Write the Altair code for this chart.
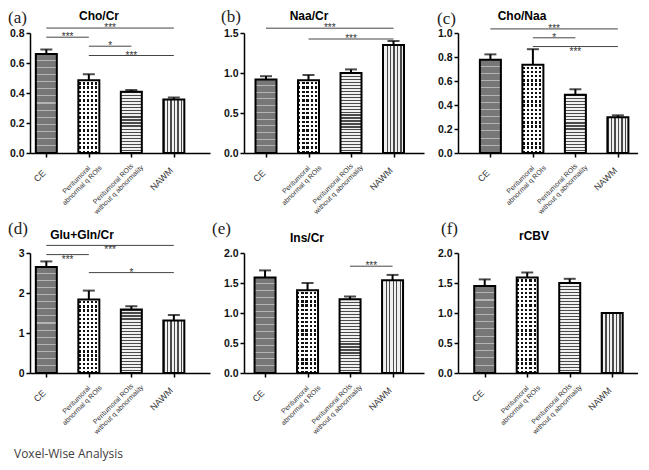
import altair as alt
import pandas as pd

# ---------------- data ----------------
categories = ["CE", "Peritumoral|abnormal q ROIs", "Peritumoral ROIs|without q abnormality", "NAWM"]
panel_titles = ["Cho/Cr", "Naa/Cr", "Cho/Naa", "Glu+Gln/Cr", "Ins/Cr", "rCBV"]
panel_tags = ["(a)", "(b)", "(c)", "(d)", "(e)", "(f)"]
footer_text = "Voxel-Wise Analysis"

cho_cr_mean = [0.66, 0.485, 0.408, 0.357]
cho_cr_sem = [0.03, 0.04, 0.012, 0.013]
naa_cr_mean = [0.92, 0.91, 1.00, 1.35]
naa_cr_sem = [0.04, 0.065, 0.045, 0.05]
cho_naa_mean = [0.777, 0.735, 0.486, 0.297]
cho_naa_sem = [0.045, 0.13, 0.045, 0.017]
glx_cr_mean = [2.65, 1.84, 1.59, 1.31]
glx_cr_sem = [0.14, 0.22, 0.08, 0.14]
ins_cr_mean = [1.59, 1.38, 1.23, 1.545]
ins_cr_sem = [0.12, 0.12, 0.045, 0.09]
rcbv_mean = [1.45, 1.59, 1.50, 1.00]
rcbv_sem = [0.11, 0.085, 0.07, 0.0]

y_max = [0.8, 1.5, 1.0, 3, 2.0, 2.0]
y_ticks = [
    [0, 0.2, 0.4, 0.6, 0.8],
    [0, 0.5, 1.0, 1.5],
    [0, 0.2, 0.4, 0.6, 0.8, 1.0],
    [0, 1, 2, 3],
    [0, 0.5, 1.0, 1.5, 2.0],
    [0, 0.5, 1.0, 1.5, 2.0],
]
y_format = [".1f", ".1f", ".1f", "d", ".1f", ".1f"]

# significance brackets: (from group, to group, height, label, star placement)
sig_a = [(0, 3, 0.833, "***", "above"), (0, 1, 0.772, "***", "above"),
         (1, 2, 0.712, "*", "above"), (1, 3, 0.65, "***", "above")]
sig_b = [(0, 3, 1.56, "***", "above"), (1, 3, 1.425, "***", "above")]
sig_c = [(0, 3, 1.034, "***", "above"), (1, 2, 0.96, "*", "above"), (1, 3, 0.887, "***", "below")]
sig_d = [(0, 3, 3.19, "***", "below"), (0, 1, 2.96, "***", "below"), (1, 3, 2.51, "*", "above")]
sig_e = [(2, 3, 1.78, "***", "above")]
sig_f = []

panels_data = [
    (cho_cr_mean, cho_cr_sem, sig_a),
    (naa_cr_mean, naa_cr_sem, sig_b),
    (cho_naa_mean, cho_naa_sem, sig_c),
    (glx_cr_mean, glx_cr_sem, sig_d),
    (ins_cr_mean, ins_cr_sem, sig_e),
    (rcbv_mean, rcbv_sem, sig_f),
]

# ---------------- style ----------------
W, H = 180, 120
STEP = 45.0
BAR_W = 21
first_center = [12, 18, 29, 12, 17, 23]
tag_pos = [(-22, -15), (-23, -16), (-21, -14), (-22, -24), (-32, -24), (-17, -24)]
title_pos = [(69, -17), (65, -17), (64, -17), (52, -18), (63, -15), (76, -17)]
label_offset = [(-7, 23), (-13, 27), (-19, 31), (-13, 26)]   # pixel offset of label block centre
label_size = [9, 7, 7, 9]
SANS = "Liberation Sans"


def stripes(n, c1, c2, frac, along_y):
    stops = []
    for k in range(n):
        a = round(k / n, 5)
        b = round((k + frac) / n, 5)
        c = round((k + 1) / n, 5)
        stops += [{"offset": a, "color": c1}, {"offset": b, "color": c1},
                  {"offset": b, "color": c2}, {"offset": c, "color": c2}]
    g = {"gradient": "linear", "stops": stops, "x1": 0, "y1": 0}
    if along_y:
        g.update(x2=0, y2=1)
    else:
        g.update(x2=1, y2=0)
    return g


def fill_for(i, h):
    if i == 0:
        return stripes(max(1, round(h / 7.0)), "#777777", "#b4b4b4", 0.85, True)
    if i == 1:
        return stripes(5, "#111111", "#ffffff", 0.55, False)
    if i == 2:
        return stripes(max(1, round(h / 3.0)), "#4a4a4a", "#f0f0f0", 0.4, True)
    return stripes(6, "#4a4a4a", "#f0f0f0", 0.4, False)


def make_panel(k):
    means, sems, sig = panels_data[k]
    ymax = y_max[k]
    lo = -first_center[k] / STEP
    xs = alt.Scale(domain=[lo, lo + W / STEP], nice=False, zero=False)
    ys = alt.Scale(domain=[0, ymax], nice=False, zero=True)
    xa = alt.Axis(
        values=list(range(len(categories))), labels=False,
        tickSize=4, tickWidth=1.5, tickColor="black",
        domainColor="black", domainWidth=1.5, grid=False, title=None)
    ya = alt.Axis(
        values=y_ticks[k], format=y_format[k], labelFont=SANS, labelFontWeight="bold",
        labelFontSize=10.5, labelColor="#111111", labelPadding=2, labelOverlap=False,
        labelFlush=False, tickSize=4, tickWidth=1.5, tickColor="black",
        domainColor="black", domainWidth=1.5, grid=False, title=None)

    df = pd.DataFrame({"idx": list(range(len(categories))), "cat": categories,
                       "mean": means, "sem": sems})
    df["top"] = df["mean"] + df["sem"]
    base = alt.Chart(df)
    X = alt.X("idx:Q", scale=xs, axis=xa)
    Y = alt.Y("mean:Q", scale=ys, axis=ya)

    layers = []
    for i in range(len(categories)):
        h = means[i] / ymax * H
        layers.append(base.transform_filter(alt.datum.idx == i).mark_bar(
            orient="vertical", width=BAR_W, fill=fill_for(i, h), strokeWidth=0
        ).encode(x=X, y=Y))
        if i == 1:
            layers.append(base.transform_filter(alt.datum.idx == i).mark_bar(
                orient="vertical", width=BAR_W, strokeWidth=0,
                fill=stripes(max(1, round(h / 4.2)), "#ffffff", "rgba(255,255,255,0)", 0.45, True)
            ).encode(x=X, y=Y))
    layers.append(base.mark_bar(orient="vertical", width=BAR_W, fill="white", fillOpacity=0,
                                stroke="black", strokeWidth=2).encode(x=X, y=Y))
    err = base.transform_filter(alt.datum.sem > 0)
    layers.append(err.mark_rule(color="black", strokeWidth=2).encode(x=X, y=Y, y2=alt.Y2("top")))
    layers.append(err.mark_tick(orient="horizontal", size=12, thickness=2, color="black").encode(
        x=X, y=alt.Y("top:Q", scale=ys, axis=ya)))

    # rotated category labels under the axis
    for i in range(len(categories)):
        ox, oy = label_offset[i]
        layers.append(base.transform_filter(alt.datum.idx == i).transform_calculate(
            lx=f"datum.idx + {ox / STEP}"
        ).mark_text(angle=315, align="center", baseline="middle", lineBreak="|", lineHeight=8,
                    fontSize=label_size[i], font=SANS, color="#333333").encode(
            x=alt.X("lx:Q", scale=xs, axis=xa), y=alt.value(H + oy), text="cat:N"))

    if sig:
        sdf = pd.DataFrame(sig, columns=["g0", "g1", "yv", "label", "pos"])
        sdf["mid"] = (sdf["g0"] + sdf["g1"]) / 2
        sc = alt.Chart(sdf)
        layers.append(sc.mark_rule(color="#444444", strokeWidth=1).encode(
            x=alt.X("g0:Q", scale=xs, axis=xa), x2=alt.X2("g1"),
            y=alt.Y("yv:Q", scale=ys, axis=ya)))
        for pos, dy in (("above", 3), ("below", 8)):
            layers.append(sc.transform_filter(alt.datum.pos == pos).mark_text(
                baseline="alphabetic", dy=dy, fontSize=10, font=SANS, color="#333333"
            ).encode(x=alt.X("mid:Q", scale=xs, axis=xa), y=alt.Y("yv:Q", scale=ys, axis=ya),
                     text="label:N"))

    tx, ty = tag_pos[k]
    layers.append(alt.Chart(pd.DataFrame({"t": [panel_tags[k]]})).mark_text(
        align="left", baseline="middle", font="Liberation Serif", fontSize=17, color="#222222"
    ).encode(x=alt.value(tx), y=alt.value(ty), text="t:N"))
    px, py = title_pos[k]
    layers.append(alt.Chart(pd.DataFrame({"t": [panel_titles[k]]})).mark_text(
        align="center", baseline="middle", font=SANS, fontSize=12, fontWeight="bold", color="black"
    ).encode(x=alt.value(px), y=alt.value(py), text="t:N"))
    if k == 3:
        layers.append(alt.Chart(pd.DataFrame({"t": [footer_text]})).mark_text(
            align="left", baseline="middle", font="Open Sans", fontSize=12, color="#404040"
        ).encode(x=alt.value(-16), y=alt.value(201), text="t:N"))

    return alt.layer(*layers).properties(width=W, height=H)


panels = [make_panel(k) for k in range(6)]
chart = alt.concat(*panels, columns=3, spacing={"row": 100, "column": 34}, bounds="flush").properties(
    padding={"left": 0, "top": 0, "right": 0, "bottom": 6}, background="white"
).configure_view(stroke=None)

chart.save("out.html", embed_options={"renderer": "svg", "actions": False})
